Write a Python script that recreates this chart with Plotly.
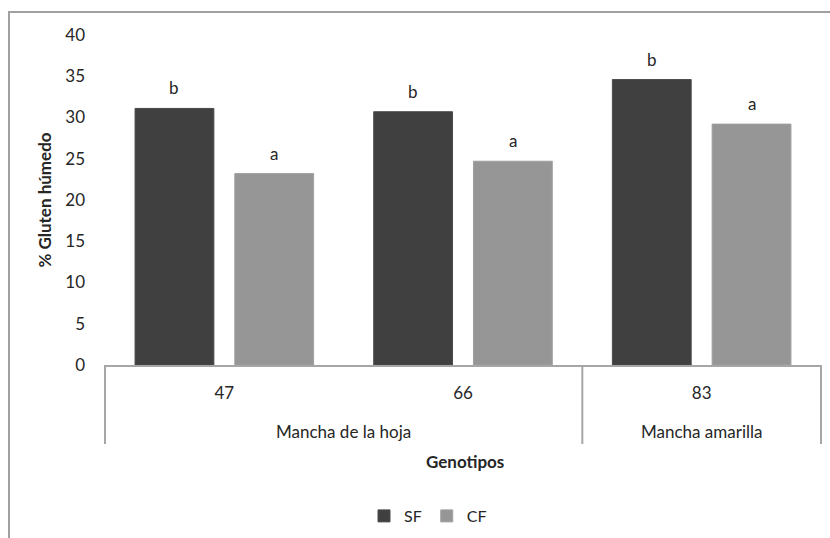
import plotly.graph_objects as go

# ---- data ----
groups = ["Mancha de la hoja", "Mancha de la hoja", "Mancha amarilla"]
genotypes = ["47", "66", "83"]
sf_values = [31.1, 30.7, 34.6]
cf_values = [23.2, 24.7, 29.2]
sf_letters = ["b", "b", "b"]
cf_letters = ["a", "a", "a"]
series_names = ["SF", "CF"]
y_ticks = [0, 5, 10, 15, 20, 25, 30, 35, 40]

# ---- layout constants ----
W, H = 830, 538
L, R, T, B = 104, 8, 35, 173
PW, PH = W - L - R, H - T - B
FONT = "Lato"
TXT = "#262626"
GRID = "#a6a6a6"
BARGAP = 0.164
BARGROUPGAP = 0.21


def px(x):
    return (x - L) / PW


def py(y):
    return (H - B - y) / PH


fig = go.Figure()
fig.add_trace(go.Bar(
    name=series_names[0], x=genotypes, y=sf_values,
    marker=dict(color="#404040", line=dict(color="#4a4a4a", width=1)),
))
fig.add_trace(go.Bar(
    name=series_names[1], x=genotypes, y=cf_values,
    marker=dict(color="#969696", line=dict(color="#a0a0a0", width=1)),
))

# significance letters above bars
off = (1 - BARGAP) / 4
for i in range(len(genotypes)):
    for dx, val, let in ((-off, sf_values[i], sf_letters[i]), (off, cf_values[i], cf_letters[i])):
        fig.add_annotation(x=i + dx, y=val, xref="x", yref="y", text=let,
                           showarrow=False, yanchor="bottom", yshift=8,
                           font=dict(family=FONT, size=17, color=TXT))

# group labels and dividers (second level of the category axis)
bounds = [0]
for i in range(1, len(groups)):
    if groups[i] != groups[i - 1]:
        bounds.append(i)
bounds.append(len(groups))
for a, b in zip(bounds[:-1], bounds[1:]):
    fig.add_annotation(x=(a + b - 1) / 2, y=py(431), xref="x", yref="paper",
                       text=groups[a], showarrow=False, yanchor="middle",
                       font=dict(family=FONT, size=17, color=TXT))
for bnd in bounds:
    fig.add_shape(type="line", xref="x", yref="paper",
                  x0=bnd - 0.5, x1=bnd - 0.5, y0=0, y1=py(444),
                  line=dict(color=GRID, width=2))

# x-axis title
fig.add_annotation(x=px(465), y=py(461), xref="paper", yref="paper",
                   text="<b>Genotipos</b>", showarrow=False, yanchor="middle",
                   font=dict(family=FONT, size=17, color=TXT))

# outer frame (left and top edges)
fig.add_shape(type="line", xref="paper", yref="paper",
              x0=px(9), x1=px(9), y0=py(12), y1=py(560),
              line=dict(color="#a0a0a0", width=2))
fig.add_shape(type="line", xref="paper", yref="paper",
              x0=px(8), x1=px(850), y0=py(12), y1=py(12),
              line=dict(color="#a0a0a0", width=2))

fig.update_layout(
    width=W, height=H,
    margin=dict(l=L, r=R, t=T, b=B, pad=0, autoexpand=False),
    paper_bgcolor="white", plot_bgcolor="white",
    barmode="group", bargap=BARGAP, bargroupgap=BARGROUPGAP,
    font=dict(family=FONT, size=17, color=TXT),
    showlegend=True,
    legend=dict(orientation="h", x=px(428), xanchor="center",
                y=py(516), yanchor="middle",
                font=dict(family=FONT, size=16, color=TXT),
                itemwidth=30, tracegroupgap=0),
    xaxis=dict(
        type="category", showline=True, linecolor=GRID, linewidth=2,
        ticks="", showgrid=False, ticklabelstandoff=12, automargin=False,
        tickfont=dict(family=FONT, size=17, color=TXT),
    ),
    yaxis=dict(
        range=[0, 40], tickvals=y_ticks, showgrid=False, zeroline=False,
        showline=False, ticks="", ticklabelstandoff=18, automargin=False,
        tickfont=dict(family=FONT, size=17, color=TXT),
        title=dict(text="<b>% Gluten húmedo</b>", standoff=9,
                   font=dict(family=FONT, size=17, color=TXT)),
    ),
)

fig.write_html("out.html", config={"displayModeBar": False},
               post_script="document.body.style.margin='0px';")
